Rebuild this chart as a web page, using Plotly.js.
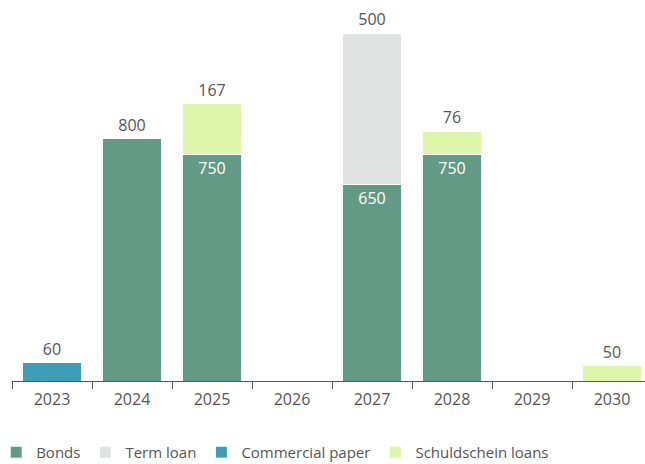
<!DOCTYPE html>
<html>
<head>
<meta charset="utf-8">
<script src="https://cdn.plot.ly/plotly-3.0.1.min.js"></script>
<style>html,body{margin:0;padding:0;background:#fff;}#chart{width:645px;height:464px;}</style>
</head>
<body>
<div id="chart"></div>
<script>
var years = ["2023", "2024", "2025", "2026", "2027", "2028", "2029", "2030"];
var bonds = [null, 800, 750, null, 650, 750, null, null];
var termLoan = [null, null, null, null, 500, null, null, null];
var commercialPaper = [60, null, null, null, null, null, null, null];
var schuldschein = [null, null, 167, null, null, 76, null, 50];

var fontFam = "'Open Sans', 'Noto Sans', sans-serif";
var series = [bonds, termLoan, commercialPaper, schuldschein];
function isTop(si, i) {
  for (var k = si + 1; k < series.length; k++) if (series[k][i] !== null) return false;
  return true;
}
function mk(si, name, color) {
  var y = series[si];
  var pos = y.map(function(v, i){ return isTop(si, i) ? "outside" : "inside"; });
  var col = pos.map(function(p){ return p === "outside" ? "#555555" : "#ffffff"; });
  return {
    type: "bar", name: name, x: years, y: y,
    marker: {color: color, line: {color: "#ffffff", width: 1}},
    width: 0.73,
    text: y.map(function(v){return v === null ? "" : String(v);}),
    textposition: pos,
    insidetextanchor: "end",
    textfont: {color: col, size: 16, family: fontFam},
    cliponaxis: false,
    hoverinfo: "x+y+name"
  };
}
var data = [
  mk(0, "Bonds", "#629a86"),
  mk(1, "Term loan", "#e0e2e1"),
  mk(2, "Commercial paper", "#3f9db7"),
  mk(3, "Schuldschein loans", "#dcf5aa")
];
var layout = {
  width: 645, height: 464,
  margin: {l: 12, r: 0, t: 10, b: 83, autoexpand: false},
  barmode: "stack",
  paper_bgcolor: "#ffffff", plot_bgcolor: "#ffffff",
  font: {family: fontFam, color: "#555555", size: 16},
  showlegend: true,
  legend: {orientation: "h", x: -0.025, xanchor: "left", y: -0.148, yanchor: "top",
           font: {size: 15, color: "#555555", family: fontFam}, traceorder: "normal",
           itemwidth: 30, tracegroupgap: 0},
  xaxis: {type: "category", range: [-0.5, 7.4125], tickson: "boundaries",
          ticks: "outside", ticklen: 7, tickcolor: "#555555", tickwidth: 1,
          showline: true, linecolor: "#555555", linewidth: 1, showgrid: false,
          ticklabelstandoff: 4,
          zeroline: false, tickfont: {size: 16, color: "#555555", family: fontFam}, fixedrange: true},
  yaxis: {range: [0, 1226], visible: false, showgrid: false, zeroline: false, fixedrange: true},
  bargap: 0.27
};
Plotly.newPlot("chart", data, layout, {displayModeBar: false, staticPlot: true});
</script>
</body>
</html>
